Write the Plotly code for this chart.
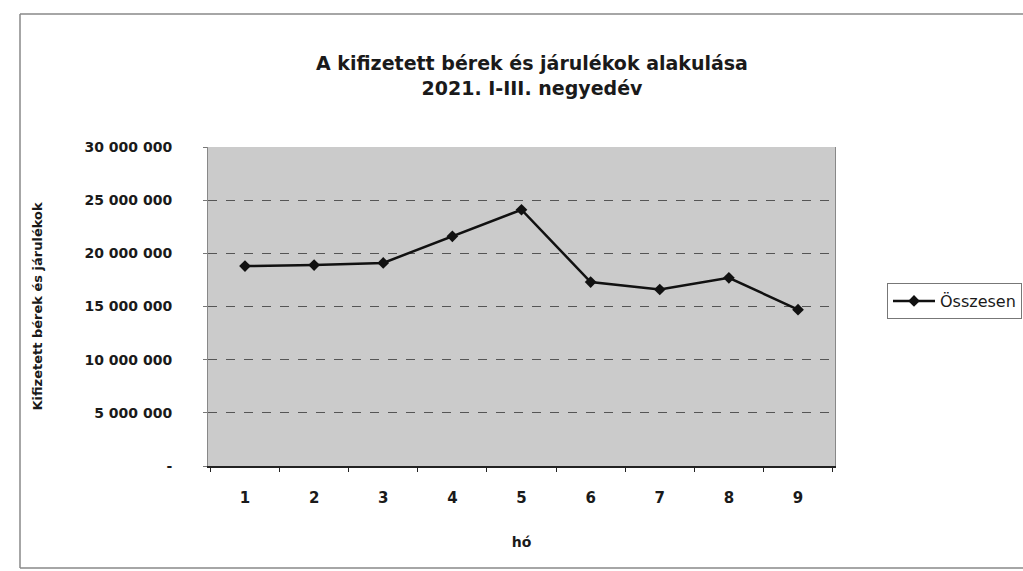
import plotly.graph_objects as go

months = ["1", "2", "3", "4", "5", "6", "7", "8", "9"]
osszesen = [18800000, 18900000, 19100000, 21600000, 24100000, 17300000, 16600000, 17700000, 14700000]
y_tickvals = [0, 5000000, 10000000, 15000000, 20000000, 25000000, 30000000]
y_ticktext = ["-", "5 000 000", "10 000 000", "15 000 000", "20 000 000", "25 000 000", "30 000 000"]

W, H = 1023, 571
L, R, T, B = 208, 835, 147, 466  # plot area pixel bounds

def px(x):
    return (x - L) / (R - L)

def py(y):
    return (B - y) / (B - T)

FONT = "DejaVu Sans"
INK = "#1a1a1a"

fig = go.Figure()
fig.add_trace(go.Scatter(
    x=months, y=osszesen, mode="lines+markers", name="Összesen",
    line=dict(color="#111111", width=2.5),
    marker=dict(symbol="diamond", size=9, color="#111111"),
))

fig.update_layout(
    width=W, height=H,
    margin=dict(l=L, r=W - R, t=T, b=H - B, pad=0, autoexpand=False),
    paper_bgcolor="white",
    plot_bgcolor="#cbcbcb",
    font=dict(family=FONT, color=INK),
    title=dict(
        text="<b>A kifizetett bérek és járulékok alakulása<br>2021. I-III. negyedév</b>",
        x=532 / W, xanchor="center", y=1 - 70 / H, yanchor="middle",
        font=dict(size=19, family=FONT, color=INK),
    ),
    showlegend=True,
    legend=dict(
        x=px(887), xanchor="left", y=py(283), yanchor="top",
        bordercolor="#777777", borderwidth=1, bgcolor="white",
        font=dict(size=16, family=FONT, color=INK),
        itemwidth=42,
    ),
    xaxis=dict(
        type="category", tickson="boundaries", ticks="outside", ticklen=4,
        tickcolor="#222222",
        showline=True, linecolor="#222222", linewidth=1.5, mirror=False,
        showgrid=False,
        tickfont=dict(size=15, family=FONT, color=INK, weight="bold"),
        ticklabelstandoff=17,
        title=dict(text="<b>hó</b>", font=dict(size=14, family=FONT, color=INK), standoff=31),
    ),
    yaxis=dict(
        range=[0, 30000000], tickvals=y_tickvals, ticktext=y_ticktext,
        ticks="outside", ticklen=4, tickcolor="#777777",
        showline=True, linecolor="#888888", linewidth=1, mirror=True,
        showgrid=True, gridcolor="#555555", griddash="dash", gridwidth=1,
        zeroline=False,
        tickfont=dict(size=14, family=FONT, color=INK, weight="bold"),
        ticklabelstandoff=28,
        title=dict(text="<b>Kifizetett bérek és járulékok</b>", font=dict(size=13, family=FONT, color=INK), standoff=38),
    ),
)

# outer chart-area border (left, top, bottom edges; right edge lies beyond the page)
for x0, y0, x1, y1 in [(20, 14, 1100, 14), (20, 14, 20, 568), (20, 568, 1100, 568)]:
    fig.add_shape(type="line", xref="paper", yref="paper",
                  x0=px(x0), x1=px(x1), y0=py(y0), y1=py(y1),
                  line=dict(color="#888888", width=1.5), layer="below")

fig.write_html("out.html", config={"displayModeBar": False},
               post_script="document.body.style.margin='0';")
